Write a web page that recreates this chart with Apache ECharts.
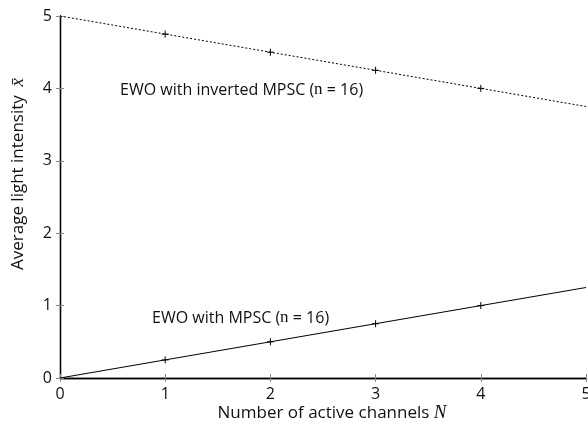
<!DOCTYPE html>
<html><head><meta charset="utf-8">
<script src="https://cdn.jsdelivr.net/npm/echarts@6/dist/echarts.min.js"></script>
<style>html,body{margin:0;padding:0;background:#fff}#c{width:588px;height:433px}</style>
</head><body><div id="c"></div>
<script>
const channels = [0, 1, 2, 3, 4, 5];
const invertedMPSC = [5, 4.75, 4.5, 4.25, 4.0, 3.75];
const plainMPSC = [0, 0.25, 0.5, 0.75, 1.0, 1.25];
const xTicks = [0, 1, 2, 3, 4, 5];
const yTicks = [0, 1, 2, 3, 4, 5];

const font = '"Open Sans", "Noto Sans", sans-serif';
const serif = '"Liberation Serif", "DejaVu Serif", serif';
const chart = echarts.init(document.getElementById('c'));
const plus = 'path://M0,-1L0,1M-1,0L1,0';
function pts(ys){
  return channels.map((x,i)=>{
    const p = {value: [x, ys[i]]};
    if (i === 0 || i === channels.length - 1) p.symbol = 'none';
    return p;
  });
}
const axisCommon = {
  min: 0, max: 5, interval: 1,
  axisLine: {show: true, lineStyle: {color: '#000', width: 1.3}},
  axisTick: {show: true, inside: true, length: 4, lineStyle: {color: '#888'}},
  splitLine: {show: false}
};
const rich = {
  t: {fontSize: 17, fontFamily: font, fill: '#111'},
  v: {fontSize: 19, fontFamily: serif, fontStyle: 'italic', fill: '#111'}
};
const annRich = {
  a: {fontSize: 16, fontFamily: font, fill: '#111'},
  n: {fontSize: 17, fontFamily: serif, fill: '#111'}
};
chart.setOption({
  animation: false,
  grid: {left: 60, right: 2, top: 16, bottom: 55, containLabel: false, outerBoundsMode: 'none'},
  xAxis: [
    Object.assign({}, axisCommon, {type: 'value', position: 'bottom',
      axisLabel: {color: '#111', fontSize: 16, fontFamily: font, margin: 8,
        formatter: v => xTicks.includes(v) ? String(v) : ''}}),
    Object.assign({}, axisCommon, {type: 'value', position: 'top', axisLabel: {show: false}})
  ],
  yAxis: [
    Object.assign({}, axisCommon, {type: 'value', position: 'left',
      axisLabel: {color: '#111', fontSize: 16, fontFamily: font, margin: 8,
        formatter: v => yTicks.includes(v) ? String(v) : ''}}),
    Object.assign({}, axisCommon, {type: 'value', position: 'right', axisLabel: {show: false}})
  ],
  series: [
    {type: 'line', data: pts(invertedMPSC), symbol: plus, symbolSize: 7, showAllSymbol: true,
     itemStyle: {color: 'transparent', borderColor: '#000', borderWidth: 1},
     lineStyle: {color: '#000', width: 1, type: [2, 2]}},
    {type: 'line', data: pts(plainMPSC), symbol: plus, symbolSize: 7, showAllSymbol: true,
     itemStyle: {color: 'transparent', borderColor: '#000', borderWidth: 1},
     lineStyle: {color: '#000', width: 1, type: 'solid'}}
  ],
  graphic: [
    {type: 'text', x: 332, y: 413, style: {
      text: '{t|Number of active channels }{v|N}', rich: rich,
      align: 'center', verticalAlign: 'middle'}},
    {type: 'text', x: 18, y: 174, rotation: Math.PI / 2, style: {
      text: '{t|Average light intensity  }{v|x̄}', rich: rich,
      align: 'center', verticalAlign: 'middle'}},
    {type: 'text', x: 120, y: 90, style: {
      text: '{a|EWO with inverted MPSC (}{n|n}{a| = 16)}', rich: annRich,
      align: 'left', verticalAlign: 'middle'}},
    {type: 'text', x: 152, y: 318, style: {
      text: '{a|EWO with MPSC (}{n|n}{a| = 16)}', rich: annRich,
      align: 'left', verticalAlign: 'middle'}}
  ]
});
</script></body></html>
